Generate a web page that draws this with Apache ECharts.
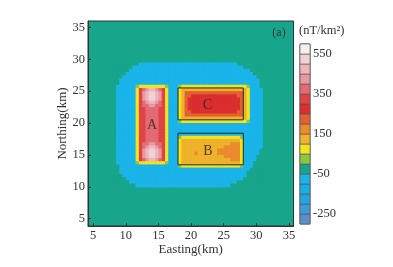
<!DOCTYPE html>
<html>
<head>
<meta charset="utf-8">
<script src="https://cdn.jsdelivr.net/npm/echarts@6/dist/echarts.min.js"></script>
<style>
  html, body { margin: 0; padding: 0; background: #fff; }
  #chart { width: 393px; height: 267px; }
</style>
</head>
<body>
<div id="chart"></div>
<script>
// contour bands of the anomaly (nT/km2)
var bandLow  = [-300, -250, -200, -150, -100, -50, 0, 50, 100, 150, 200, 250, 300, 350, 400, 450, 500, 550];
var bandHigh = [-250, -200, -150, -100, -50, 0, 50, 100, 150, 200, 250, 300, 350, 400, 450, 500, 550, 600];
var bandMid  = [-275, -225, -175, -125, -75, -25, 25, 75, 125, 175, 225, 275, 325, 375, 425, 475, 525, 575];
// one character per band, same order as above
var bandCodes = "#%=~-.gyoOaRSpPqQw";
var colorbarTicks = [550, 350, 150, -50, -250];

var xTicks = [5, 10, 15, 20, 25, 30, 35];
var yTicks = [5, 10, 15, 20, 25, 30, 35];

// gridded field, 0.5 km cells, first row is y=29.25, first column x=8.25
// (spaces only split the row into groups for reading)
var xFirst = 8.25, yFirst = 29.25, cellKm = 0.5;
var fieldRows = [
  "....... .--------- --- ------------------.... .....",
  "......- ---------- --- --------------------.. .....",
  ".....-- ---------- --- ---------------------- .....",
  "....--- ---------- --- ---------------------- -....",
  "...---- ---------- --- ---------------------- --...",
  "..----- ---------- --- ---------------------- ---..",
  "..----- ---------- --- ---------------------- ---..",
  ".------ gyyyyyyyyg --- gyyyyyyyyyyyyyyyyyyyyg ---..",
  ".------ ySpPqqPpSy --- yooooooooooooooooooooy ----.",
  ".------ ySPqQQqPSy --- yoaaaaaaaaaaaaaaaaaaoy ----.",
  ".------ ySPqQQqPSy --- yoaaRRRRRRRRRRRRRRaaoy ----.",
  ".------ ySPqQQqPSy --- yoaRRRRRRRRRRRRRRRRaoy ----.",
  ".------ ySpPqqPpSy --- yoaRRRRRRRRRRRRRRRRaoy ----.",
  ".------ ySppPPppSy --- yoaRRRRRRRRRRRRRRRRaoy ----.",
  ".------ ySSppppSSy --- yoaRRRRRRRRRRRRRRRRaoy ----.",
  ".------ ySSppppSSy --- yoaaRRRRRRRRRRRRRRaaoy ----.",
  ".------ ySSppppSSy --- yoaaaaaaaaaaaaaaaaaaoy ----.",
  ".------ ySSppppSSy --- yooooooooooooooooooooy ----.",
  ".------ ySSppppSSy --- gyyyyyyyyyyyyyyyyyyyyg ----.",
  ".------ ySSppppSSy --- ---------------------- ----.",
  ".------ ySSppppSSy --- ---------------------- ----.",
  ".------ ySSppppSSy --- ---------------------- ----.",
  ".------ ySSppppSSy --- ---------------------- ----.",
  ".------ ySSppppSSy --- gyyyyyyyyyyyyyyyyyyg-- ----.",
  ".------ ySSppppSSy --- yooooooooooooooooooy-- ----.",
  ".------ ySppPPppSy --- yoooooooooooooooOOOy-- ----.",
  ".------ ySpPqqPpSy --- yoooooooooooooOOOOOy-- ----.",
  ".------ ySPqQQqPSy --- yoooooooooooOOOOOOOy-- ---..",
  ".------ ySPqQQqPSy --- yooooOooooooOOOOOOOy-- ---..",
  ".------ ySPqQQqPSy --- yoooooooooooooOOOOOy-- --...",
  ".------ ySpPqqPpSy --- yoooooooooooooooOOOy-- --...",
  ".------ gyyyyyyyyg --- yooooooooooooooooooy-- -....",
  "..----- ---------- --- gyyyyyyyyyyyyyyyyyyg-- -....",
  "..----- ---------- --- ---------------------- .....",
  "..----- ---------- --- ---------------------. .....",
  "...---- ---------- --- ---------------------. .....",
  "....--- ---------- --- --------------------.. .....",
  ".....-- ---------- --- ------------------.... .....",
  "....... ---------- --- ----------------...... ....."
];

// outlines of bodies C and B (km)
var boxX0 = [18, 18];
var boxX1 = [28, 28];
var boxY0 = [20.5, 13.45];
var boxY1 = [25.5, 18.4];

var bodyNames = ['A', 'B', 'C'];
var bodyX = [14.0, 22.6, 22.5];
var bodyY = [19.7, 15.6, 22.85];

var bandColors = ['#5a8fc8', '#3c9cd8', '#22a6e2', '#18ace8', '#1ab4ea', '#17a68b',
  '#8ec63f', '#f2e41e', '#f0b22a', '#ec8a2e', '#e4602e', '#dc2e2e',
  '#e04248', '#e46a74', '#ea98a0', '#eeb6bc', '#f0d2d6', '#f4f0f2'];

var serif = 'Liberation Serif';

var fieldData = [];
fieldRows.forEach(function (row, k) {
  var r = row.replace(/ /g, '');
  for (var j = 0; j < r.length; j++) {
    var idx = bandCodes.indexOf(r[j]);
    fieldData.push([xFirst + j * cellKm, yFirst - k * cellKm, bandMid[idx]]);
  }
});

var pieces = bandLow.map(function (lo, i) {
  return { gte: lo, lt: bandHigh[i], color: bandColors[i] };
});

var colorbarData = bandLow.map(function (lo, i) { return [lo, bandHigh[i]]; });
var boxData = boxX0.map(function (x0, i) { return [x0, boxY0[i], boxX1[i], boxY1[i]]; });
var labelData = bodyNames.map(function (n, i) { return { name: n, value: [bodyX[i], bodyY[i]] }; });

var myChart = echarts.init(document.getElementById('chart'));
var option = {
  animation: false,
  backgroundColor: '#fff',
  grid: [
    { left: 88, top: 21, width: 205.5, height: 205, show: true,
      backgroundColor: '#17a68b', borderColor: '#333', borderWidth: 1 },
    { left: 300, top: 44, width: 10, height: 180, show: true,
      borderColor: '#444', borderWidth: 1 }
  ],
  xAxis: [
    {
      type: 'value', gridIndex: 0, min: 4.2, max: 35.7,
      name: 'Easting(km)', nameLocation: 'middle', nameGap: 17, nameMoveOverlap: false,
      nameTextStyle: { fontFamily: serif, fontSize: 13, color: '#333' },
      axisLine: { lineStyle: { color: '#333' } },
      axisTick: { inside: true, length: 3, customValues: xTicks, lineStyle: { color: '#333' } },
      axisLabel: { customValues: xTicks, margin: 3, fontFamily: serif, fontSize: 12.5, color: '#333' },
      splitLine: { show: false }
    },
    { type: 'value', gridIndex: 1, min: 0, max: 1, show: false }
  ],
  yAxis: [
    {
      type: 'value', gridIndex: 0, min: 3.85, max: 36,
      name: 'Northing(km)', nameLocation: 'middle', nameGap: 19, nameMoveOverlap: false,
      nameTextStyle: { fontFamily: serif, fontSize: 13, color: '#333' },
      axisLine: { lineStyle: { color: '#333' } },
      axisTick: { inside: true, length: 3, customValues: yTicks, lineStyle: { color: '#333' } },
      axisLabel: { customValues: yTicks, margin: 3, fontFamily: serif, fontSize: 12.5, color: '#333' },
      splitLine: { show: false }
    },
    {
      type: 'value', gridIndex: 1, min: -300, max: 600, position: 'right',
      axisLine: { show: false }, axisTick: { show: false }, splitLine: { show: false },
      axisLabel: { customValues: colorbarTicks, margin: 3, fontFamily: serif, fontSize: 12.5, color: '#333' }
    }
  ],
  visualMap: {
    type: 'piecewise', show: false, dimension: 2, seriesIndex: 0, pieces: pieces
  },
  series: [
    {
      type: 'custom', xAxisIndex: 0, yAxisIndex: 0,
      encode: { x: 0, y: 1 },
      data: fieldData,
      renderItem: function (params, api) {
        var x = api.value(0), y = api.value(1);
        var a = api.coord([x - cellKm / 2, y + cellKm / 2]);
        var b = api.coord([x + cellKm / 2, y - cellKm / 2]);
        return {
          type: 'rect',
          shape: { x: a[0], y: a[1], width: b[0] - a[0] + 0.6, height: b[1] - a[1] + 0.6 },
          style: { fill: api.visual('color') }
        };
      }
    },
    {
      type: 'custom', xAxisIndex: 1, yAxisIndex: 1,
      encode: { y: [0, 1] },
      data: colorbarData,
      renderItem: function (params, api) {
        var a = api.coord([0, api.value(1)]);
        var b = api.coord([1, api.value(0)]);
        return {
          type: 'rect',
          shape: { x: a[0], y: a[1], width: b[0] - a[0], height: b[1] - a[1] },
          style: { fill: bandColors[params.dataIndex], stroke: '#555', lineWidth: 0.6 }
        };
      }
    },
    {
      type: 'custom', xAxisIndex: 0, yAxisIndex: 0,
      encode: { x: [0, 2], y: [1, 3] },
      data: boxData,
      renderItem: function (params, api) {
        var a = api.coord([api.value(0), api.value(3)]);
        var b = api.coord([api.value(2), api.value(1)]);
        return {
          type: 'rect',
          shape: { x: a[0], y: a[1], width: b[0] - a[0], height: b[1] - a[1] },
          style: { fill: 'none', stroke: '#1e2b26', lineWidth: 1 }
        };
      }
    },
    {
      type: 'scatter', xAxisIndex: 0, yAxisIndex: 0,
      symbolSize: 0, itemStyle: { color: 'transparent' },
      data: labelData,
      label: {
        show: true, position: 'inside', formatter: '{b}',
        fontFamily: serif, fontSize: 14, color: '#2a2020'
      }
    }
  ],
  graphic: [
    { type: 'text', x: 279, y: 33, style: { text: '(a)', font: '12px "Liberation Serif"', fill: '#333', textAlign: 'center', textVerticalAlign: 'middle' } },
    { type: 'text', x: 299, y: 31, style: { text: '(nT/km\u00b2)', font: '12.5px "Liberation Serif"', fill: '#333', textAlign: 'left', textVerticalAlign: 'middle' } }
  ]
};
myChart.setOption(option);
</script>
</body>
</html>
